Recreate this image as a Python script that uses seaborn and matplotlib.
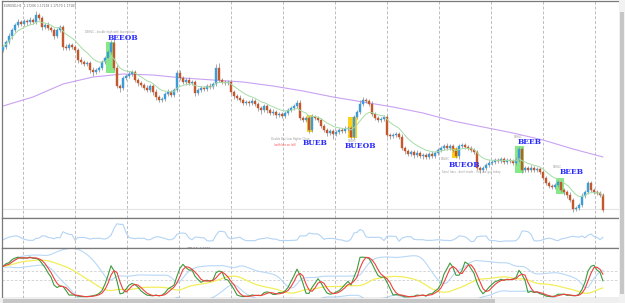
import numpy as np
import pandas as pd
import matplotlib
matplotlib.use("Agg")
import matplotlib.pyplot as plt
import seaborn as sns
from matplotlib.patches import Rectangle

sns.set_style("white")
plt.rcParams['font.family'] = ['DejaVu Sans']

# ---------------- data (price in chart points) ----------------
close = [173, 178, 184, 190, 195, 198, 196, 199, 198, 200, 198, 205, 202, 193, 195, 192, 190, 184, 190, 193,
         173, 172, 175, 173, 170, 160, 158, 156, 157, 150, 148, 150, 152, 158, 162, 168, 177, 152, 134, 132,
         142, 144, 146, 148, 140, 137, 135, 132, 130, 134, 128, 123, 120, 121, 126, 128, 125, 130, 147, 142,
         138, 140, 137, 138, 127, 130, 132, 131, 134, 133, 136, 152, 140, 138, 137, 138, 128, 124, 122, 120,
         117, 118, 117, 119, 116, 112, 110, 114, 110, 107, 108, 105, 106, 104, 107, 110, 112, 114, 117, 102,
         100, 102, 90, 103, 102, 100, 94, 90, 87, 89, 86, 88, 90, 89, 91, 92, 83, 103, 108, 116,
         120, 119, 116, 106, 102, 100, 101, 103, 85, 84, 85, 86, 83, 72, 69, 66, 68, 65, 67, 64,
         65, 63, 66, 64, 67, 70, 72, 74, 72, 74, 70, 64, 74, 75, 73, 72, 70, 68, 52, 50,
         52, 55, 57, 58, 60, 59, 61, 58, 60, 59, 57, 60, 71, 50, 52, 50, 52, 50, 51, 48,
         42, 37, 34, 33, 35, 38, 30, 28, 25, 20, 11, 12, 15, 24, 28, 37, 30, 28, 27, 25,
         10]
wick_up = [2, 2, 3, 2, 2, 3, 2, 2, 2, 3, 2, 4, 2, 2, 2, 3, 2, 2, 2, 2,
           2, 3, 2, 2, 2, 2, 3, 2, 2, 2, 3, 2, 2, 2, 2, 2, 3, 4, 3, 2,
           2, 2, 3, 2, 2, 2, 2, 2, 3, 2, 2, 3, 2, 2, 2, 3, 2, 2, 3, 3,
           2, 2, 3, 2, 2, 2, 2, 2, 2, 3, 2, 4, 5, 2, 2, 2, 2, 2, 2, 3,
           2, 2, 2, 3, 2, 2, 2, 2, 2, 2, 3, 2, 2, 2, 2, 2, 2, 2, 3, 3,
           2, 2, 2, 3, 2, 2, 2, 2, 2, 2, 2, 2, 2, 2, 3, 2, 2, 2, 2, 4,
           3, 2, 2, 3, 2, 2, 2, 2, 2, 2, 2, 2, 2, 3, 2, 2, 2, 2, 3, 2,
           2, 2, 2, 3, 2, 2, 2, 2, 3, 2, 2, 3, 2, 2, 2, 2, 2, 2, 2, 2,
           2, 2, 3, 2, 2, 2, 2, 2, 2, 2, 2, 3, 2, 2, 2, 2, 3, 2, 2, 2,
           2, 2, 2, 2, 2, 2, 2, 2, 2, 3, 2, 2, 2, 3, 2, 2, 2, 2, 2, 2,
           2]
wick_dn = [2, 2, 2, 3, 2, 2, 2, 2, 3, 2, 2, 2, 2, 3, 2, 2, 2, 3, 2, 2,
           3, 2, 2, 2, 2, 3, 2, 2, 2, 3, 4, 2, 2, 2, 2, 2, 2, 2, 2, 4,
           2, 2, 2, 2, 2, 3, 2, 2, 2, 2, 3, 3, 2, 2, 2, 2, 2, 2, 2, 2,
           2, 3, 2, 2, 3, 2, 2, 2, 2, 2, 2, 2, 2, 2, 2, 2, 2, 3, 2, 2,
           2, 2, 3, 2, 2, 3, 4, 2, 3, 2, 2, 3, 2, 2, 2, 2, 2, 2, 2, 2,
           2, 2, 3, 2, 2, 2, 2, 2, 3, 2, 5, 2, 2, 2, 2, 2, 2, 2, 2, 2,
           2, 2, 2, 2, 2, 2, 2, 2, 2, 3, 2, 2, 2, 2, 3, 2, 2, 3, 2, 2,
           3, 2, 2, 2, 2, 2, 2, 2, 2, 2, 2, 2, 3, 2, 2, 2, 2, 2, 2, 3,
           2, 2, 2, 2, 2, 2, 2, 2, 2, 2, 2, 2, 2, 3, 2, 2, 2, 2, 2, 2,
           2, 2, 2, 2, 2, 2, 2, 3, 3, 2, 3, 2, 2, 2, 2, 2, 2, 2, 2, 2,
           2]
# long moving average (purple), one value every 10 bars
ma_long_idx = [0, 10, 20, 30, 40, 50, 60, 70, 80, 90, 100, 110, 120, 130, 140, 150, 160, 170, 180, 190, 200]
ma_long = [114, 123, 136, 143, 146, 145, 142, 140, 138, 134, 129, 123, 118, 113, 107, 99, 93, 87, 80, 71, 63]

# pattern highlight boxes: (bar_start, bar_end, price_low, price_high, colour)
boxes = [(34.3, 37.3, 147, 178, "#86E886"),
         (101.4, 103.4, 88, 105, "#FFD21A"),
         (115.0, 118.0, 82, 103, "#FFD21A"),
         (149.7, 151.7, 62, 72, "#FFD21A"),
         (170.8, 173.7, 47, 74, "#86E886"),
         (184.4, 187.0, 26, 42, "#86E886")]
# pattern labels: (bar, price, text)
labels = [(35.0, 178.5, "BEEOB"), (100.0, 73, "BUEB"), (114.0, 70, "BUEOB"),
          (148.5, 51, "BUEOB"), (171.5, 74, "BEEB"), (185.5, 44, "BEEB")]
small_notes = [(27.5, 185.5, "DBHLC - double high with lower close", "#9a9a9a"),
               (89.5, 79, "Double Bar Low Higher Close", "#9a9a9a"),
               (90.3, 72.5, "(with bar on left)", "#ff5050"),
               (114.8, 77, "DBLHC", "#9a9a9a"),
               (146.0, 58.5, "DBLHC", "#9a9a9a"),
               (146.4, 46, "Small bars - don't trade - line use gull today", "#9a9a9a"),
               (170.3, 80.5, "DBHLC", "#9a9a9a"),
               (183.4, 51.0, "DBHLC", "#9a9a9a")]
grid_bars = [6.67, 24.0, 41.33, 58.67, 76.0, 93.33, 110.67, 128.0, 145.33, 162.67, 180.0, 197.33]

# ---------------- derived candle table ----------------
n = len(close)
idx = np.arange(n)
c = np.array(close, dtype=float)
o = np.concatenate([[c[0] - 3], c[:-1]])
hi = np.maximum(o, c) + np.array(wick_up)
lo = np.minimum(o, c) - np.array(wick_dn)
df = pd.DataFrame({"bar": idx, "open": o, "high": hi, "low": lo, "close": c})
df["ema"] = df["close"].ewm(span=10).mean()
df["atr"] = (df["high"] - df["low"]).rolling(4, min_periods=1).mean()
ll = df["low"].rolling(14, min_periods=1).min()
hh = df["high"].rolling(14, min_periods=1).max()
k = 100 * (df["close"] - ll) / (hh - ll)
df["k"] = k.rolling(3, min_periods=1).mean()
df["d"] = df["k"].rolling(3, min_periods=1).mean()
df["sig"] = df["d"].rolling(20, min_periods=1).mean()
sd = df["d"].rolling(20, min_periods=1).std().fillna(0)
df["bb_up"] = df["sig"] + 1.6 * sd
df["bb_dn"] = df["sig"] - 1.6 * sd

# ---------------- figure ----------------
W, H = 625, 303
fig = plt.figure(figsize=(W / 100, H / 100), dpi=100)
fig.patch.set_facecolor("white")

def pax(x0, y0, x1, y1):
    return fig.add_axes([x0 / W, 1 - y1 / H, (x1 - x0) / W, (y1 - y0) / H])

xlim = (-1 / 3, 616 / 3)
ax = pax(2, 1, 619, 218)
ax2 = pax(2, 218, 619, 248)
ax3 = pax(2, 248, 619, 298)

for a in (ax, ax2, ax3):
    a.set_xlim(*xlim)
    a.set_xticks(grid_bars)
    a.set_yticks([])
    a.tick_params(length=0, labelbottom=False)
    a.grid(axis="x", color="#bdbdbd", linestyle=(0, (3, 2)), linewidth=0.7)
    a.set_facecolor("white")
    for s in a.spines.values():
        s.set_color("#7a7a7a")
        s.set_linewidth(0.9)
    a.spines["right"].set_visible(False)

# main panel
ax.set_ylim(2, 219)
ax.axhline(11, color="#e4e4e4", lw=0.8)
for (b0, b1, p0, p1, col) in boxes:
    ax.add_patch(Rectangle((b0, p0), b1 - b0, p1 - p0, facecolor=col, edgecolor="none", zorder=1))
sns.lineplot(x=ma_long_idx, y=ma_long, ax=ax, color="#c9a2f2", lw=0.8, zorder=2)
up = (df["close"] >= df["open"]).to_numpy()
bars = df["bar"].to_numpy()
ax.vlines(bars, df["low"], df["high"], color="#9a9a9a", lw=0.6, zorder=3)
body_lo = np.minimum(o, c)
body_h = np.maximum(np.abs(c - o), 1.0)
ax.bar(bars[up], body_h[up], bottom=body_lo[up], width=0.72,
       color="#3d9bd8", edgecolor="#3d9bd8", linewidth=0.3, zorder=4)
ax.bar(bars[~up], body_h[~up], bottom=body_lo[~up], width=0.72,
       color="#c2582c", edgecolor="#c2582c", linewidth=0.3, zorder=4)
sns.lineplot(data=df, x="bar", y="ema", ax=ax, color="#a6dca6", lw=0.7, zorder=5)
for (b, p, t) in labels:
    ax.text(b, p, t, color="#2a2aff", fontsize=5.4, fontweight="bold",
            family="DejaVu Serif", ha="left", va="bottom", zorder=6)
for (b, p, t, col) in small_notes:
    ax.text(b, p, t, color=col, fontsize=1.9, ha="left", va="bottom", zorder=6)
ax.text(0.3, 216, "EURUSD,H1  1.17206 1.17218 1.17170 1.17183", color="#666666",
        fontsize=2.2, ha="left", va="top")
ax.set_xlabel(""); ax.set_ylabel("")

# ATR panel
sns.lineplot(data=df, x="bar", y="atr", ax=ax2, color="#b3d4f5", lw=0.8)
ax2.set_ylim(0.5, 24)
ax2.text(0.3, 0.93, "ATR(14) 0.0013", transform=ax2.get_yaxis_transform(),
         color="#666666", fontsize=2.2, ha="left", va="top")
ax2.set_xlabel(""); ax2.set_ylabel("")

# stochastic panel
ax3.set_ylim(2, 112)
for lvl in (62, 42):
    ax3.axhline(lvl, color="#d0d0d0", lw=0.6, linestyle=(0, (3, 2)))
sns.lineplot(data=df, x="bar", y="bb_up", ax=ax3, color="#b8d8f6", lw=0.8)
sns.lineplot(data=df, x="bar", y="bb_dn", ax=ax3, color="#b8d8f6", lw=0.8)
sns.lineplot(data=df, x="bar", y="sig", ax=ax3, color="#f2ee5a", lw=0.9)
sns.lineplot(data=df, x="bar", y="k", ax=ax3, color="#3c9a3c", lw=0.8)
sns.lineplot(data=df, x="bar", y="d", ax=ax3, color="#f04040", lw=0.8)
ax3.text(0.3, 0.97, "Stochastic(14,3,3) 56.2315 48.0921", transform=ax3.get_yaxis_transform(),
         color="#666666", fontsize=2.2, ha="left", va="top")
ax3.set_xlabel(""); ax3.set_ylabel("")

# scroll bars
sb = pax(0, 298, 619, 303)
sb.set_xlim(0, 1); sb.set_ylim(0, 1); sb.axis("off")
sb.add_patch(Rectangle((0, 0), 1, 1, facecolor="#efefef", edgecolor="none", zorder=0))
sb.add_patch(Rectangle((3 / 619, 0.1), (495 - 3) / 619, 0.8, facecolor="#c6c6c6", edgecolor="none"))
rb = pax(619, 0, 625, 303)
rb.set_xlim(0, 1); rb.set_ylim(0, 1); rb.axis("off")
rb.add_patch(Rectangle((0, 0), 1, 1, facecolor="#f2f2f2", edgecolor="none", zorder=0))
rb.add_patch(Rectangle((0.2, 0.03), 0.65, 0.93, facecolor="#c6c6c6", edgecolor="none"))

fig.savefig("out.png", dpi=100)
